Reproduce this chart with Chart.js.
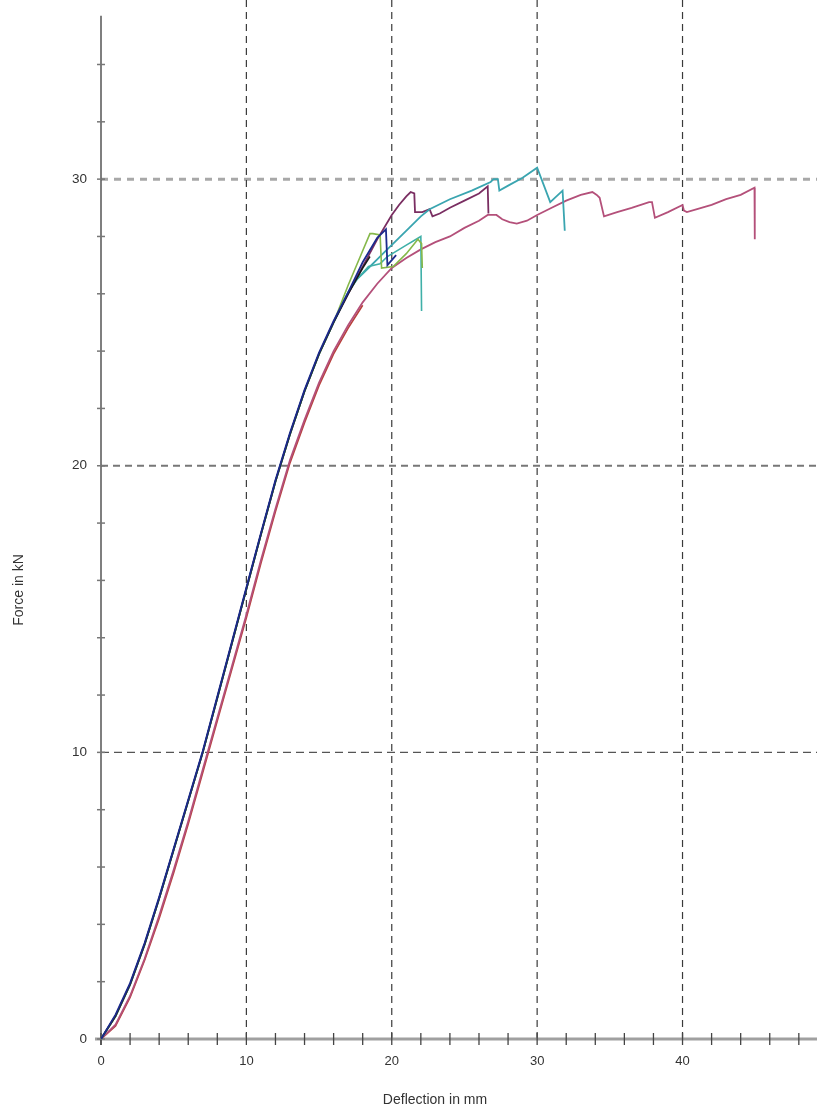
<!DOCTYPE html>
<html>
<head>
<meta charset="utf-8">
<script src="https://cdn.jsdelivr.net/npm/chart.js@4.4.1/dist/chart.umd.min.js"></script>
<style>
  html, body { margin: 0; padding: 0; background: #ffffff; }
  #wrap { width: 817px; height: 1114px; position: relative; }
</style>
</head>
<body>
<div id="wrap"><canvas id="c" width="817" height="1114"></canvas></div>
<script>
// ---- Data (Deflection in mm, Force in kN) ----
const blueX  = [0,1,2,3,4,5,6,7,8,9,10,11,12,13,14,15,16,17,18,19,19.6,19.7,20.3];
const blueY  = [0,0.85,1.95,3.35,4.95,6.65,8.35,10.05,11.95,13.85,15.75,17.65,19.5,21.15,22.65,23.95,25.05,26.05,27.1,27.95,28.25,27.0,27.35];

const blackX = [0,1,2,3,4,5,6,7,8,9,10,11,12,13,14,15,16,17,18,18.5];
const blackY = [0,0.8,1.9,3.3,4.9,6.6,8.3,10.0,11.9,13.8,15.7,17.6,19.45,21.1,22.6,23.9,25.0,26.0,26.9,27.3];

const purpleX = [0,1,2,3,4,5,6,7,8,9,10,11,12,13,14,15,16,17,18,19,20,20.5,21,21.3,21.55,21.6,22.1,22.6,22.8,23.3,24,25,26,26.6,26.65];
const purpleY = [0,0.8,1.9,3.3,4.9,6.6,8.3,10.0,11.9,13.8,15.7,17.6,19.45,21.1,22.6,23.9,25.0,26.0,26.95,27.9,28.75,29.1,29.4,29.55,29.5,28.85,28.85,28.95,28.7,28.8,29.0,29.25,29.5,29.75,28.8];

const tealTopX = [0,1,2,3,4,5,6,7,8,9,10,11,12,13,14,15,16,17,17.6,18.4,19.0,19.5,20.5,21.2,22.0,22.6,24,25.5,26.8,27.0,27.3,27.4,28.1,29,30.0,30.9,31.75,31.9];
const tealTopY = [0,0.8,1.9,3.3,4.9,6.6,8.3,10.0,11.9,13.8,15.7,17.6,19.45,21.1,22.6,23.9,25.0,26.05,26.5,26.9,27.2,27.45,27.95,28.3,28.7,28.95,29.3,29.6,29.9,30.0,30.0,29.6,29.8,30.05,30.4,29.2,29.6,28.2];

const tealLowX = [0,1,2,3,4,5,6,7,8,9,10,11,12,13,14,15,16,17,17.5,18.4,19.2,19.7,21.0,22.0,22.05];
const tealLowY = [0,0.8,1.9,3.3,4.9,6.6,8.3,10.0,11.9,13.8,15.7,17.6,19.45,21.1,22.6,23.9,25.0,26.05,26.45,26.95,27.05,27.3,27.7,28.0,25.4];

const greenX = [0,1,2,3,4,5,6,7,8,9,10,11,12,13,14,15,16,17,18,18.5,18.7,19.2,19.3,20.1,21.0,21.8,22.05,22.1];
const greenY = [0,0.8,1.9,3.3,4.9,6.6,8.3,10.0,11.9,13.8,15.7,17.6,19.45,21.1,22.6,23.9,25.0,26.3,27.5,28.1,28.1,28.05,26.9,26.95,27.4,27.9,27.75,26.9];

const redX = [0,1,2,3,4,5,6,7,8,9,10,11,12,13,14,15,16,17,18];
const redY = [0,0.45,1.45,2.75,4.2,5.8,7.5,9.3,11.1,12.9,14.7,16.6,18.4,20.1,21.5,22.8,23.9,24.8,25.6];

const pinkX = [0,1,2,3,4,5,6,7,8,9,10,11,12,13,14,15,16,17,18,19,20,21,22,23,24,25,26,26.6,27.2,27.6,28.1,28.6,29.3,30.0,31,32,33,33.8,34.1,34.3,34.6,35.5,36.5,37.7,37.9,38.1,39,40,40.1,40.3,41,42,43,44,44.95,44.97];
const pinkY = [0,0.5,1.5,2.8,4.3,5.9,7.6,9.4,11.2,13.0,14.8,16.7,18.5,20.2,21.6,22.9,24.0,24.9,25.7,26.35,26.9,27.25,27.55,27.8,28.0,28.3,28.55,28.75,28.75,28.6,28.5,28.45,28.55,28.75,29.0,29.25,29.45,29.55,29.45,29.35,28.7,28.85,29.0,29.2,29.2,28.65,28.85,29.1,28.9,28.85,28.95,29.1,29.3,29.45,29.7,27.9];

// ---- Axis settings ----
const xMax = 49.25, yMax = 36.25;
const xMajor = [10, 20, 30, 40];
const yMajor = [10, 20, 30];
const minorStep = 2;

function pts(xs, ys) { return xs.map((x, i) => ({ x: x, y: ys[i] })); }

function series(label, xs, ys, color, width) {
  return { label, data: pts(xs, ys), borderColor: color, backgroundColor: color,
           borderWidth: width || 1.6, pointRadius: 0, showLine: true, tension: 0, fill: false };
}

const axisPlugin = {
  id: 'axisPlugin',
  beforeDatasetsDraw(chart) {
    const { ctx, chartArea: a, scales: { x, y } } = chart;
    ctx.save();
    yMajor.forEach(v => {
      const py = y.getPixelForValue(v);
      ctx.beginPath();
      if (v === 30) { ctx.strokeStyle = '#a8a8a8'; ctx.lineWidth = 3; ctx.setLineDash([7, 6]); }
      else if (v === 20) { ctx.strokeStyle = '#777'; ctx.lineWidth = 1.8; ctx.setLineDash([7, 5]); }
      else { ctx.strokeStyle = '#555'; ctx.lineWidth = 1.4; ctx.setLineDash([8, 5]); }
      ctx.moveTo(a.left, py); ctx.lineTo(a.right, py); ctx.stroke();
    });
    xMajor.forEach(v => {
      const px = x.getPixelForValue(v);
      ctx.beginPath();
      ctx.strokeStyle = '#3a3a3a'; ctx.lineWidth = 1.2; ctx.setLineDash([7, 5]);
      ctx.moveTo(px, a.top); ctx.lineTo(px, a.bottom); ctx.stroke();
    });
    ctx.setLineDash([]);
    const x0 = x.getPixelForValue(0), y0 = y.getPixelForValue(0);
    ctx.beginPath(); ctx.strokeStyle = '#a0a0a0'; ctx.lineWidth = 3;
    ctx.moveTo(x0 - 6, y0); ctx.lineTo(a.right, y0); ctx.stroke();
    ctx.beginPath(); ctx.strokeStyle = '#555'; ctx.lineWidth = 1.5;
    ctx.moveTo(x0, y.getPixelForValue(35.7)); ctx.lineTo(x0, y0 + 6); ctx.stroke();
    ctx.strokeStyle = '#444'; ctx.lineWidth = 1.3;
    for (let v = 0; v <= xMax; v += minorStep) {
      const px = x.getPixelForValue(v);
      ctx.beginPath(); ctx.moveTo(px, y0 - 6); ctx.lineTo(px, y0 + 6); ctx.stroke();
    }
    ctx.strokeStyle = '#777'; ctx.lineWidth = 1.5;
    for (let v = 0; v <= 35; v += minorStep) {
      const py = y.getPixelForValue(v);
      ctx.beginPath(); ctx.moveTo(x0 - 4, py); ctx.lineTo(x0 + 4, py); ctx.stroke();
    }
    ctx.restore();
  },
  afterDraw(chart) {
    const { ctx } = chart;
    ctx.save();
    ctx.fillStyle = '#333';
    ctx.font = '14px "Liberation Sans", Arial, sans-serif';
    ctx.textAlign = 'center'; ctx.textBaseline = 'middle';
    ctx.fillText('Deflection in mm', 435, 1100);
    ctx.translate(19, 590); ctx.rotate(-Math.PI / 2);
    ctx.fillText('Force in kN', 0, 0);
    ctx.restore();
  }
};

new Chart(document.getElementById('c'), {
  type: 'scatter',
  data: {
    datasets: [
      series('Blue', blueX, blueY, '#1c2a8c', 1.8),
      series('Black', blackX, blackY, '#1a1a1a', 1.6),
      series('Green', greenX, greenY, '#86b84a', 1.6),
      series('Teal 2', tealLowX, tealLowY, '#3fb0a8', 1.6),
      series('Teal 1', tealTopX, tealTopY, '#3aa5b0', 1.8),
      series('Purple', purpleX, purpleY, '#7a2e62', 1.8),
      series('Pink', pinkX, pinkY, '#b4507a', 1.8),
      series('Red', redX, redY, '#b8403a', 1.6)
    ]
  },
  options: {
    responsive: false,
    animation: false,
    layout: { padding: 0 },
    plugins: { legend: { display: false }, tooltip: { enabled: false } },
    scales: {
      x: {
        type: 'linear', min: 0, max: xMax,
        afterFit(s) { s.height = 75; s.paddingLeft = 0; s.paddingRight = 0; },
        grid: { display: false, drawTicks: false },
        border: { display: false },
        ticks: { stepSize: 10, includeBounds: false, padding: 15, color: '#333',
                 font: { size: 13, family: '"Liberation Sans", Arial, sans-serif' },
                 callback: v => (v % 10 === 0 ? v : ''), maxRotation: 0, autoSkip: false }
      },
      y: {
        type: 'linear', min: 0, max: yMax,
        afterFit(s) { s.width = 101; s.paddingTop = 0; s.paddingBottom = 0; },
        grid: { display: false, drawTicks: false },
        border: { display: false },
        ticks: { stepSize: 10, includeBounds: false, padding: 14, color: '#333',
                 font: { size: 13.5, family: '"Liberation Sans", Arial, sans-serif' },
                 callback: v => (v % 10 === 0 ? v : ''), autoSkip: false }
      }
    }
  },
  plugins: [axisPlugin]
});
</script>
</body>
</html>
